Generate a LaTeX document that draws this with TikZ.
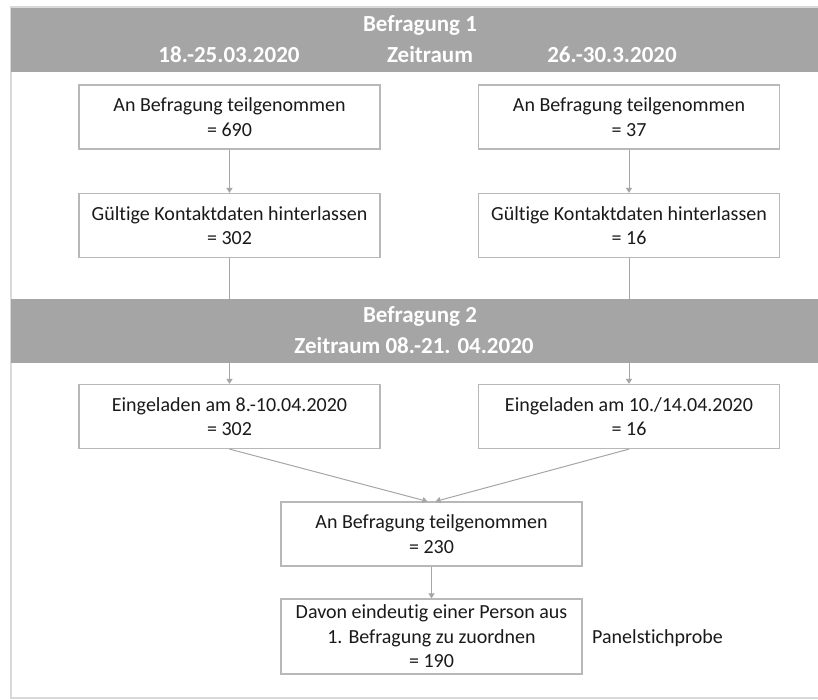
\documentclass[tikz,border=0pt]{standalone}
\usepackage{fontspec}
\setmainfont{Carlito}[Ligatures={NoCommon}]
\usetikzlibrary{arrows.meta}
\definecolor{bandgray}{HTML}{A5A5A5}
\definecolor{boxline}{HTML}{B8B8B8}
\definecolor{arrowgray}{HTML}{A6A6A6}
\definecolor{framegray}{HTML}{D9D9D9}
\definecolor{txt}{HTML}{1A1A1A}
\begin{document}
\begin{tikzpicture}[x=1pt,y=1pt,
 box/.style={draw=boxline, line width=1.2pt, fill=white, minimum width=301pt, minimum height=64pt, inner sep=0pt, align=center, font=\fontsize{20}{24.4}\selectfont, text=txt},
 band/.style={fill=bandgray, inner sep=0pt, minimum width=807pt, minimum height=64pt},
 hdr/.style={text=white, font=\bfseries\fontsize{23}{27}\selectfont, inner sep=0pt},
 conn/.style={draw=arrowgray, line width=1pt, -{Triangle[width=6pt,length=5pt]}},
 lbl/.style={text=txt, font=\fontsize{20}{24.4}\selectfont, inner sep=0pt, anchor=west}]
\useasboundingbox (0,0) rectangle (818,-699);
\fill[white] (0,0) rectangle (818,-699);
\draw[framegray, line width=1.5pt] (818,-7) -- (11,-7) -- (11,-698) -- (818,-698);

% boxes
\node[box] (l1) at (229.5,-117) {An Befragung teilgenommen\\= 690};
\node[box] (r1) at (629,-117) {An Befragung teilgenommen\\= 37};
\node[box] (l2) at (229.5,-225.5) {Gültige Kontaktdaten hinterlassen\\= 302};
\node[box] (r2) at (629,-225.5) {Gültige Kontaktdaten hinterlassen\\= 16};
\node[box] (l3) at (229.5,-416.5) {Eingeladen am 8.-10.04.2020\\= 302};
\node[box] (r3) at (629,-416.5) {Eingeladen am 10./14.04.2020\\= 16};
\node[box] (b4) at (431.5,-534) {An Befragung teilgenommen\\= 230};
\node[box, minimum height=75pt] (b5) at (431.5,-636.5) {Davon eindeutig einer Person aus\\1. Befragung zu zuordnen\\= 190};
\node[lbl] (panel) at (592,-638) {Panelstichprobe};

% connectors
\draw[conn] (l1) -- (l2);
\draw[conn] (r1) -- (r2);
\draw[conn] (l2) -- (l3);
\draw[conn] (r2) -- (r3);
\draw[conn] (l3.south) -- ([xshift=-4pt]b4.north);
\draw[conn] (r3.south) -- ([xshift=4pt]b4.north);
\draw[conn] (b4) -- (b5);

% bands
\node[band] (band1) at (414.5,-40) {};
\node[hdr] (t1) at (420,-25) {Befragung 1};
\node[hdr] (d1) at (229,-55) {18.-25.03.2020};
\node[hdr] (z1) at (430,-55) {Zeitraum};
\node[hdr] (d2) at (612,-55) {26.-30.3.2020};
\node[band] (band2) at (414.5,-331) {};
\node[hdr] (t2) at (420,-316) {Befragung 2};
\node[hdr] (z2) at (414,-346) {Zeitraum 08.-21. 04.2020};
\end{tikzpicture}
\end{document}
